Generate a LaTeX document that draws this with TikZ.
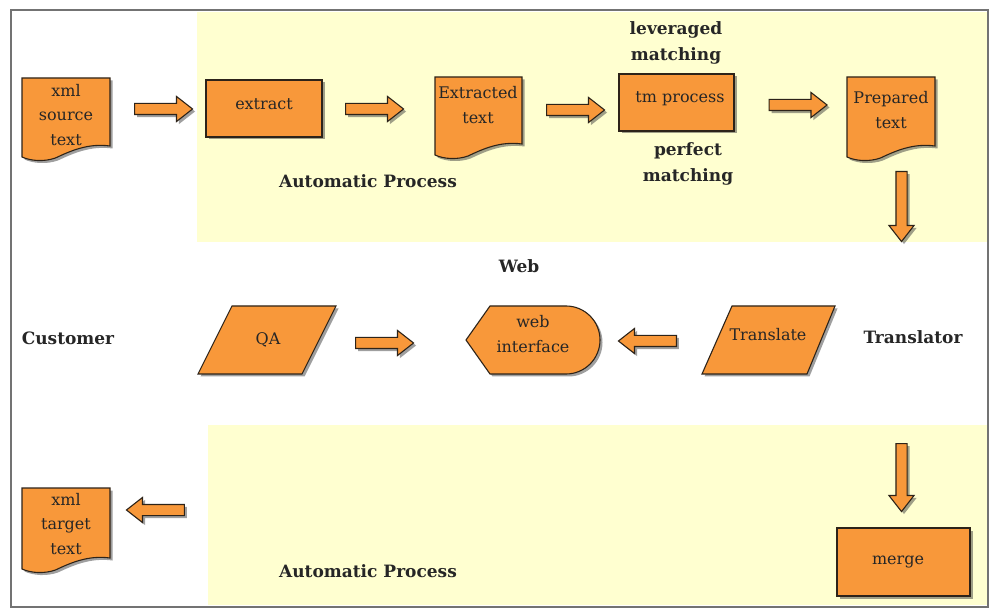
\documentclass[tikz,border=0pt]{standalone}
\usepackage{fontspec}
\setmainfont{DejaVu Serif}
\usetikzlibrary{shapes.arrows,shadows}
\definecolor{orangefill}{RGB}{248,152,58}
\definecolor{bgyellow}{RGB}{255,255,208}
\definecolor{edgec}{RGB}{45,35,25}
\tikzset{
  shp/.style={fill=orangefill, draw=edgec, line width=1.1pt,
    drop shadow={shadow xshift=2.5pt, shadow yshift=-2.5pt, opacity=0.5, fill=black!75}},
  boxtext/.style={font=\fontsize{16}{24.5}\selectfont, align=center, inner sep=0pt, text=black!85},
  lbl/.style={font=\fontsize{17}{26}\selectfont\bfseries, align=center, inner sep=0pt, text=black!85},
  barrow/.style={shp, single arrow, single arrow head extend=7pt, single arrow tip angle=76,
    inner sep=5pt, text height=0pt, text depth=0pt, minimum height=#1},
  barrow/.default=58pt,
  boxnode/.style={shp, rectangle, inner sep=0pt},
}
\newcommand\docshape[4]{%
  \draw[shp] (#1,#2) -- (#3,#2) -- (#3,{#4-14})
    .. controls ({#3-0.25*(#3-#1)},{#4-17}) and ({#1+0.55*(#3-#1)},{#4-9}) .. ({#1+0.38*(#3-#1)},{#4-2})
    .. controls ({#1+0.25*(#3-#1)},{#4+2}) and ({#1+0.1*(#3-#1)},{#4+1}) .. (#1,{#4-3}) -- cycle;}
\begin{document}
\begin{tikzpicture}[x=1pt,y=-1pt]
\useasboundingbox (0,0) rectangle (991,612);
\fill[white] (0,0) rectangle (991,612);
% background bands
\fill[bgyellow] (197,12) rectangle (987,242);
\fill[bgyellow] (208,425) rectangle (987,605);
\draw[black!55, line width=2pt] (11,10) rectangle (988,607);

% top row
\docshape{22}{78}{110}{160}
\node[boxtext] (src) at (66,115) {xml\\source\\text};
\node[barrow, shape border rotate=0] (a1) at (160,109) {};
\node[boxnode, minimum width=116pt, minimum height=57pt] (extractbox) at (264,108.5) {};
\node[boxtext] (extract) at (264,104) {extract};
\node[barrow] (a2) at (371,109) {};
\docshape{435}{77}{522}{158}
\node[boxtext] (extracted) at (478,105) {Extracted\\text};
\node[barrow] (a3) at (572,110) {};
\node[boxnode, minimum width=115pt, minimum height=57pt] (tmbox) at (676.5,102.5) {};
\node[boxtext] (tm) at (680,99) {tm process};
\node[lbl] (lev) at (676,43) {leveraged\\matching};
\node[lbl] (perf) at (688,164) {perfect\\matching};
\node[barrow] (a4) at (794.5,105) {};
\docshape{847}{77}{935}{160}
\node[boxtext] (prep) at (891,110) {Prepared\\text};
\node[barrow=70pt, shape border rotate=270] (a5) at (901.5,203) {};
\node[lbl] (auto1) at (368,181) {Automatic Process};

% middle row
\node[lbl] (web) at (519,266) {Web};
\node[lbl] (cust) at (68,338) {Customer};
\node[lbl] (transl) at (913,337) {Translator};
\draw[shp] (198,374) -- (232,306) -- (336,306) -- (302,374) -- cycle;
\node[boxtext] (qa) at (268,340) {QA};
\node[barrow] (a6) at (381,343) {};
\draw[shp] (466,340) -- (490,306) -- (566,306) arc[start angle=90, end angle=-90, radius=34pt] -- (490,374) -- cycle;
\node[boxtext] (webif) at (533,334) {web\\interface};
\node[barrow, shape border rotate=180] (a7) at (651,341) {};
\draw[shp] (702,374) -- (732,306) -- (835,306) -- (807,374) -- cycle;
\node[boxtext] (translate) at (768,335) {Translate};

% bottom row
\node[barrow=68pt, shape border rotate=270] (a8) at (901.5,474) {};
\node[boxnode, minimum width=133pt, minimum height=68pt] (mergebox) at (903.5,562) {};
\node[boxtext] (merge) at (898,562) {merge};
\node[lbl] (auto2) at (368,571) {Automatic Process};
\node[barrow, shape border rotate=180] (a9) at (159,510) {};
\docshape{22}{488}{110}{572}
\node[boxtext] (tgt) at (66,524) {xml\\target\\text};
\end{tikzpicture}
\end{document}
